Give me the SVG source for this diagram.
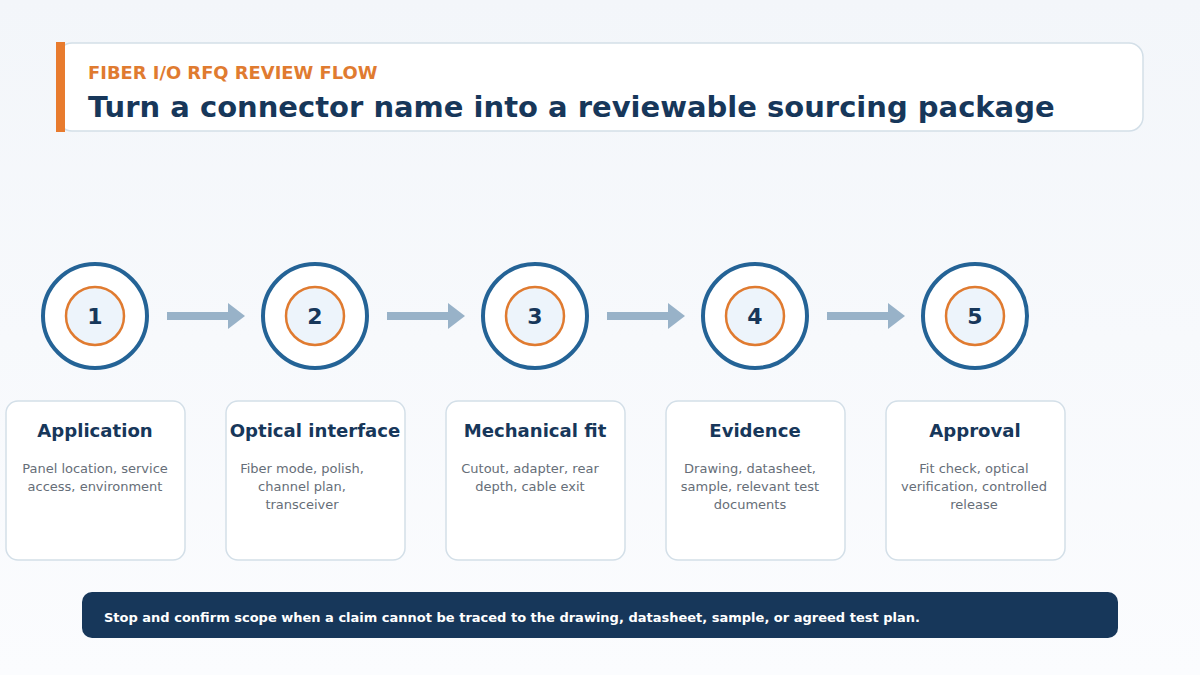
<svg xmlns="http://www.w3.org/2000/svg" width="1200" height="675" viewBox="0 0 1200 675">
<defs>
<linearGradient id="bg" x1="0" y1="0" x2="0" y2="1"><stop offset="0" stop-color="#f3f6fa"/><stop offset="1" stop-color="#fbfcfe"/></linearGradient>
</defs>
<style>
text{font-family:"DejaVu Sans","Noto Sans",sans-serif}
.oc{fill:#fff;stroke:#246396;stroke-width:4}
.ic{fill:#edf4fb;stroke:#e07b30;stroke-width:2.5}
.num{font-size:22px;font-weight:bold;fill:#17375a;text-anchor:middle}
.card{fill:#fff;stroke:#d3dfe8;stroke-width:1.5}
.ct{font-size:18.1px;font-weight:bold;fill:#17375a;text-anchor:middle}
.cd{font-size:13px;fill:#666e78;text-anchor:middle}
.ar{stroke:#98b2c8;stroke-width:8;fill:none}
.hd{fill:#98b2c8}
</style>
<rect width="1200" height="675" fill="url(#bg)"/>
<g id="header">
<rect x="58" y="43" width="1085" height="88" rx="14" fill="#fff" stroke="#d3dfe8" stroke-width="1.5"/>
<rect x="56" y="42" width="9" height="90" fill="#e87b2e"/>
<text x="88" y="79" font-size="17.9" font-weight="bold" fill="#e07b30">FIBER I/O RFQ REVIEW FLOW</text>
<text x="88" y="117" font-size="29" font-weight="bold" fill="#17375a">Turn a connector name into a reviewable sourcing package</text>
</g>
<g id="connectors">
<line class="ar" x1="167" y1="316" x2="230" y2="316"/><path class="hd" d="M228,303 L245,316 L228,329 Z"/>
<line class="ar" x1="387" y1="316" x2="450" y2="316"/><path class="hd" d="M448,303 L465,316 L448,329 Z"/>
<line class="ar" x1="607" y1="316" x2="670" y2="316"/><path class="hd" d="M668,303 L685,316 L668,329 Z"/>
<line class="ar" x1="827" y1="316" x2="890" y2="316"/><path class="hd" d="M888,303 L905,316 L888,329 Z"/>
</g>
<g id="step1">
<circle class="oc" cx="95" cy="316" r="52"/><circle class="ic" cx="95" cy="316" r="29"/><text class="num" x="95" y="324">1</text>
<rect class="card" x="6" y="401" width="179" height="159" rx="12"/>
<text class="ct" x="95" y="437">Application</text>
<text class="cd" x="95" y="473">Panel location, service</text><text class="cd" x="95" y="491">access, environment</text>
</g>
<g id="step2">
<circle class="oc" cx="315" cy="316" r="52"/><circle class="ic" cx="315" cy="316" r="29"/><text class="num" x="315" y="324">2</text>
<rect class="card" x="226" y="401" width="179" height="159" rx="12"/>
<text class="ct" x="315" y="437">Optical interface</text>
<text class="cd" x="302" y="473">Fiber mode, polish,</text><text class="cd" x="302" y="491">channel plan,</text><text class="cd" x="302" y="509">transceiver</text>
</g>
<g id="step3">
<circle class="oc" cx="535" cy="316" r="52"/><circle class="ic" cx="535" cy="316" r="29"/><text class="num" x="535" y="324">3</text>
<rect class="card" x="446" y="401" width="179" height="159" rx="12"/>
<text class="ct" x="535" y="437">Mechanical fit</text>
<text class="cd" x="530" y="473">Cutout, adapter, rear</text><text class="cd" x="530" y="491">depth, cable exit</text>
</g>
<g id="step4">
<circle class="oc" cx="755" cy="316" r="52"/><circle class="ic" cx="755" cy="316" r="29"/><text class="num" x="755" y="324">4</text>
<rect class="card" x="666" y="401" width="179" height="159" rx="12"/>
<text class="ct" x="755" y="437">Evidence</text>
<text class="cd" x="750" y="473">Drawing, datasheet,</text><text class="cd" x="750" y="491">sample, relevant test</text><text class="cd" x="750" y="509">documents</text>
</g>
<g id="step5">
<circle class="oc" cx="975" cy="316" r="52"/><circle class="ic" cx="975" cy="316" r="29"/><text class="num" x="975" y="324">5</text>
<rect class="card" x="886" y="401" width="179" height="159" rx="12"/>
<text class="ct" x="975" y="437">Approval</text>
<text class="cd" x="974" y="473">Fit check, optical</text><text class="cd" x="974" y="491">verification, controlled</text><text class="cd" x="974" y="509">release</text>
</g>
<g id="footer">
<rect x="82" y="592" width="1036" height="46" rx="10" fill="#17375a"/>
<text x="104" y="622" font-size="13" font-weight="bold" fill="#fff">Stop and confirm scope when a claim cannot be traced to the drawing, datasheet, sample, or agreed test plan.</text>
</g>
</svg>
